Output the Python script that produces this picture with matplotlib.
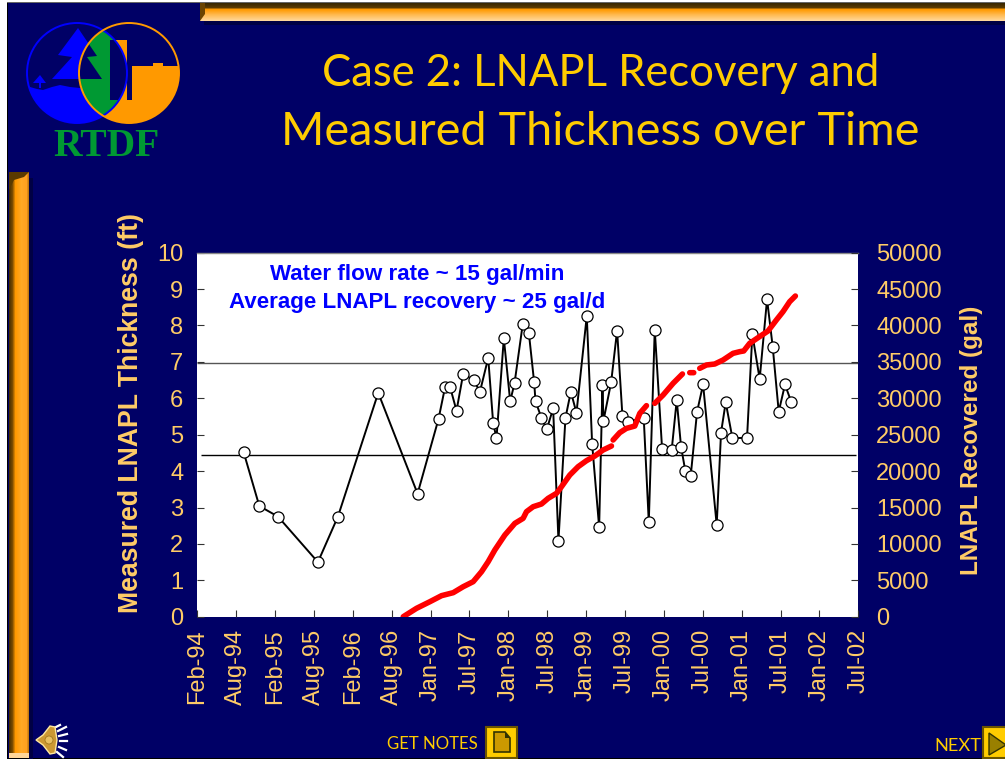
import matplotlib
matplotlib.use('Agg')
import matplotlib.pyplot as plt
import numpy as np
from matplotlib.font_manager import FontProperties
from matplotlib.patches import Circle, Polygon, Rectangle

tick_labels = ['Feb-94','Aug-94','Feb-95','Aug-95','Feb-96','Aug-96','Jan-97','Jul-97','Jan-98',
               'Jul-98','Jan-99','Jul-99','Jan-00','Jul-00','Jan-01','Jul-01','Jan-02','Jul-02']
# months since Feb-94
thick_months = [7.15,9.57,12.45,18.61,21.70,27.92,33.99,37.22,38.25,39.02,40.00,41.03,42.72,43.60,44.89,45.66,46.17,
                47.30,48.28,48.95,50.23,51.16,51.98,52.19,53.11,53.93,54.91,55.73,56.81,57.64,58.51,60.10,60.93,62.01,
                62.52,62.67,63.86,64.78,65.60,66.53,68.89,69.67,70.59,71.72,73.21,73.98,74.65,75.32,76.14,77.12,78.05,
                80.15,80.82,81.54,82.57,84.83,85.65,86.78,87.92,88.79,89.72,90.69,91.67]
thick_ft = [4.52,3.04,2.75,1.50,2.75,6.15,3.38,5.43,6.32,6.30,5.66,6.67,6.49,6.17,7.11,5.31,4.91,
            7.65,5.92,6.41,8.05,7.80,6.44,5.92,5.46,5.15,5.72,2.09,5.46,6.18,5.60,8.26,4.74,2.46,
            6.36,5.38,6.44,7.86,5.52,5.36,5.46,2.60,7.89,4.62,4.59,5.95,4.67,3.99,3.87,5.63,6.38,
            2.52,5.06,5.89,4.91,4.91,7.76,6.53,8.72,7.42,5.63,6.38,5.89]
rec_months = [31.78,33.83,35.89,37.69,39.49,41.03,42.57,43.86,44.89,45.91,47.46,49.00,50.28,50.80,51.83,53.11,54.14,
              55.43,56.20,57.48,58.77,60.05,61.34,62.62,63.91,np.nan,64.16,65.19,66.22,67.51,68.28,69.31,np.nan,
              70.59,71.88,73.42,74.86,np.nan,75.99,76.61,np.nan,77.53,78.56,79.85,81.13,82.67,83.70,84.32,85.24,
              86.53,88.07,89.36,90.38,91.41,92.29]
rec_gal = [0,1150,2060,2890,3300,4120,4810,6180,7560,9160,11220,12820,13510,14430,15110,15480,16260,
           16945,17860,19460,20610,21430,22070,22900,23450,np.nan,24270,25280,25870,26190,27930,28990,np.nan,
           29310,30450,32055,33340,np.nan,33520,33520,np.nan,34115,34575,34710,35260,36175,36405,36500,37550,
           38330,39245,40755,41900,43270,44050]
ref_levels = [6.98, 4.43]

W, H = 1005, 759
NAVY = '#000066'; YEL = '#FFCC00'; LAB = '#FFCC66'; SANS = 'Liberation Sans'

fig = plt.figure(figsize=(W/100, H/100), dpi=100, facecolor=NAVY)
bg = fig.add_axes([0, 0, 1, 1]); bg.axis('off')

def rgb(h):
    return np.array([int(h[i:i+2], 16)/255 for i in (1, 3, 5)])

def ramp(stops, n):
    pos = [s[0] for s in stops]; cols = np.array([rgb(s[1]) for s in stops])
    return np.stack([np.interp(np.arange(n), pos, cols[:, k]) for k in range(3)], axis=1)

# frame
bg.add_patch(Rectangle((0, 0), 7, H, fc='white', ec='none'))
bg.add_patch(Rectangle((7, 0), 1, H, fc='black', ec='none'))
bg.add_patch(Rectangle((0, 0), W, 2, fc='white', ec='none'))
bg.add_patch(Rectangle((7, 2), W, 1, fc='#666666', ec='none'))
bg.add_patch(Rectangle((7, H-1), W, 1, fc='black', ec='none'))
# top bar
bg.add_patch(Rectangle((204, 21), W, 4, fc='#000044', ec='none', zorder=1))
tg = ramp([(0, '#3A2800'), (4, '#5A3A00'), (6, '#FF9900'), (11, '#FFB84D'), (17, '#FFD699')], 18)[:, None, :]
bg.imshow(tg, extent=(200, W, 21, 3), aspect='auto', zorder=1, interpolation='nearest')
bg.add_patch(Polygon([(200, 3), (205, 3), (205, 14), (200, 21)], fc='#6B4400', ec='none', zorder=2))
# left bar
bg.add_patch(Rectangle((29, 178), 4, H, fc='#000044', ec='none', zorder=1))
lg = ramp([(0, '#4A3000'), (3, '#7A4C00'), (6, '#FF9900'), (12, '#FFA824'), (17, '#FFA020'), (19, '#C07810')], 20)[None, :, :]
bg.imshow(lg, extent=(9, 29, H-1, 172), aspect='auto', zorder=1, interpolation='nearest')
bg.add_patch(Polygon([(9, 172), (29, 172), (24, 177), (14, 180), (9, 190)], fc='#5A3A00', ec='none', zorder=2))
bg.add_patch(Rectangle((9, 753), 20, 5, fc='#FFD699', ec='none', zorder=2))
bg.set_xlim(0, W); bg.set_ylim(H, 0)

# logo
BLUE = '#0000FF'; OR = '#FF9900'; GR = '#009933'
LX, RX, CY, R = 77, 129, 73, 50
clip_l = Circle((LX, CY), R, transform=bg.transData)
clip_r = Circle((RX, CY), R, transform=bg.transData)
ang = np.arccos((RX-LX)/2/R)
t = np.linspace(-ang, ang, 60)
lens_xy = np.c_[np.r_[LX+R*np.cos(t), RX-R*np.cos(t[::-1])], np.r_[CY+R*np.sin(t), CY+R*np.sin(t[::-1])]]
tree = [(78,28),(97,56),(87,57),(102,79),(52,79),(72,57),(58,55)]
water = [(20,86),(30,87),(37,89),(43,90),(52,87),(60,85),(70,87),(80,88),(110,88),(110,130),(20,130)]
ground = [(132,66),(153,66),(153,63),(163,63),(163,66),(185,66),(185,130),(95,130),(95,100),(132,100)]
bg.add_patch(Polygon(tree, fc=BLUE, ec='none', zorder=2))
bg.add_patch(Polygon([(40,75),(46,83),(41,83),(41,88),(39,88),(39,83),(33,83)], fc=BLUE, ec='none', zorder=2))
bg.add_patch(Polygon(water, fc=BLUE, ec='none', zorder=2)).set_clip_path(clip_l)
bg.add_patch(Polygon(ground, fc=OR, ec='none', zorder=2)).set_clip_path(clip_r)
bg.add_patch(Rectangle((110, 40), 17, 60, fc=OR, ec='none', zorder=2)).set_clip_path(clip_r)
lens = Polygon(lens_xy, fc=GR, ec='none', zorder=3); bg.add_patch(lens)
bg.add_patch(Rectangle((110, 40), 17, 60, fc=NAVY, ec='none', zorder=4)).set_clip_path(lens)
bg.add_patch(Polygon(tree, fc=NAVY, ec='none', zorder=4)).set_clip_path(lens)
bg.add_patch(Circle((LX, CY), R, fc='none', ec=BLUE, lw=1.4, zorder=5))
bg.add_patch(Circle((RX, CY), R, fc='none', ec=OR, lw=1.4, zorder=5))
bg.text(106, 146, 'RTDF', ha='center', va='center', color=GR, fontsize=28.5, family='Liberation Serif', weight='bold', zorder=6)

# text helper: size a narrow-set line to the width it fills in the slide
fig.canvas.draw()
rend = fig.canvas.get_renderer()
def fitted(txt, xc, yc, width, fp):
    tt = bg.text(xc, yc, txt, color=YEL, ha='center', va='center', fontproperties=fp, fontsize=30)
    tt.set_fontsize(30*width/tt.get_window_extent(rend).width)
    return tt

title_fp = FontProperties(family='Lato', weight='normal')
fitted('Case 2: LNAPL Recovery and', 601, 73, 558, title_fp)
fitted('Measured Thickness over Time', 600, 132, 638, title_fp)
fitted('GET NOTES', 432.5, 744, 91, title_fp)
fitted('NEXT', 957.5, 746, 47, title_fp)

# footer buttons and speaker
bg.add_patch(Rectangle((486, 727), 31, 31, fc=YEL, ec='#6B5500', lw=1.5, zorder=2))
bg.add_patch(Polygon([(494,732),(505,732),(510,738),(510,752),(494,752)], fc='#CC9900', ec='#333300', lw=1.2, zorder=3))
bg.add_patch(Polygon([(505,732),(510,738),(505,738)], fc='#333300', ec='none', zorder=3))
bg.add_patch(Rectangle((983, 727), 24, 31, fc=YEL, ec='#6B5500', lw=1.5, zorder=2))
bg.add_patch(Polygon([(989,733),(1006,745),(989,755)], fc='#998000', ec='#333300', lw=1, zorder=3))
bg.add_patch(Polygon([(36,740),(43,735),(50,726),(55,727),(57,740),(55,753),(50,754),(43,745)],
                     fc='#CC9933', ec='#FFE9A0', lw=1, zorder=3))
bg.add_patch(Circle((49, 740), 4, fc='#E8C060', ec='#A07820', lw=0.6, zorder=4))
for seg in ([(58,731),(66,727)], [(59,736),(67,734)], [(60,741),(67,741)], [(59,747),(66,750)], [(57,752),(63,757)], [(56,727),(60,725)]):
    bg.plot(*zip(*seg), color='white', lw=1.6, zorder=2)
bg.set_xlim(0, W); bg.set_ylim(H, 0)

# chart
ax = fig.add_axes([197.3/W, 1-616.7/H, 661/W, 364/H], facecolor='white', zorder=3)
ax.set_xlim(0, 17*6); ax.set_ylim(0, 10)
ax.set_xticks(np.arange(len(tick_labels))*6)
ax.set_xticklabels(tick_labels, rotation=90, color=LAB, fontsize=17, family=SANS)
ax.set_yticks(range(11))
ax.tick_params(axis='y', labelcolor=LAB, color='#333333', direction='in', length=5, labelsize=17, pad=10)
ax.tick_params(axis='x', labelcolor=LAB, color='#333333', direction='in', length=5, pad=9)
for lab in ax.get_yticklabels(): lab.set_family(SANS)
for name, s in ax.spines.items():
    s.set_visible(name == 'top')
    s.set_color('#888888'); s.set_linewidth(1)
ax.hlines(ref_levels[0], 0, 102, color='#555555', lw=1, zorder=1)
ax.hlines(ref_levels[1], 0.6, 101.7, color='black', lw=1, zorder=1)
ax.plot(thick_months, thick_ft, '-o', color='black', lw=1.4, ms=8, mfc='white', mec='black', mew=0.9, zorder=3)
ax.set_ylabel('Measured LNAPL Thickness (ft)', color=LAB, fontsize=19.2, weight='bold', family=SANS)
ax.yaxis.set_label_coords(-0.080, 0.56)

ax2 = ax.twinx()
ax2.set_ylim(0, 50000); ax2.set_yticks(range(0, 50001, 5000))
ax2.tick_params(axis='y', labelcolor=LAB, color='#333333', direction='in', length=5, labelsize=17, pad=13)
for lab in ax2.get_yticklabels(): lab.set_family(SANS)
for name, s in ax2.spines.items(): s.set_visible(False)
ax2.plot(rec_months, rec_gal, '-', color='#FF0000', lw=4, solid_capstyle='round', solid_joinstyle='round', zorder=4)
ax2.set_ylabel('LNAPL Recovered (gal)', color=LAB, fontsize=17.5, weight='bold', family=SANS)
ax2.yaxis.set_label_coords(1.154, 0.485)
ax2.text(0.332, 0.94, 'Water flow rate ~ 15 gal/min', transform=ax.transAxes, color='#0000FF', fontsize=16.1, weight='bold',
         ha='center', va='center', family=SANS)
ax2.text(0.332, 0.862, 'Average LNAPL recovery ~ 25 gal/d', transform=ax.transAxes, color='#0000FF', fontsize=16.1, weight='bold',
         ha='center', va='center', family=SANS)
fig.savefig('out.png', dpi=100, facecolor=NAVY)
